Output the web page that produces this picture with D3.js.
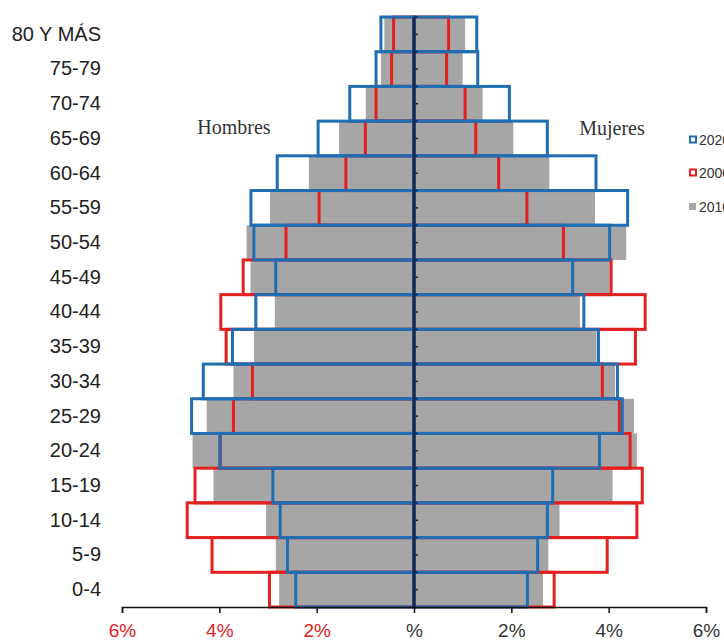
<!DOCTYPE html>
<html>
<head>
<meta charset="utf-8">
<script src="https://cdn.jsdelivr.net/npm/d3@7"></script>
<style>
  html, body { margin: 0; padding: 0; background: #fff; overflow: hidden; }
  svg { display: block; }
</style>
</head>
<body>
<svg id="chart" width="724" height="642"></svg>
<script>
const categories = ["80 Y MÁS","75-79","70-74","65-69","60-64","55-59","50-54","45-49","40-44","35-39","30-34","25-29","20-24","15-19","10-14","5-9","0-4"];

// Hombres (left side), percent of population
const men2020 = [0.68,0.78,1.32,1.97,2.81,3.35,3.29,2.84,3.25,3.73,4.33,4.57,3.99,2.90,2.75,2.60,2.43];
const men2000 = [0.42,0.46,0.78,1.00,1.40,1.95,2.63,3.51,3.97,3.86,3.32,3.71,3.98,4.50,4.66,4.15,2.97];
const men2010 = [0.61,0.68,0.99,1.54,2.16,2.96,3.44,3.36,2.86,3.29,3.71,4.26,4.55,4.12,3.04,2.84,2.77];

// Mujeres (right side)
const women2020 = [1.29,1.31,1.96,2.74,3.74,4.39,4.02,3.26,3.49,3.79,4.18,4.28,3.81,2.85,2.74,2.54,2.33];
const women2000 = [0.71,0.67,1.05,1.27,1.74,2.32,3.07,4.05,4.75,4.55,3.87,4.22,4.44,4.69,4.58,3.97,2.88];
const women2010 = [1.05,1.00,1.41,2.04,2.78,3.72,4.36,4.02,3.41,3.75,4.13,4.52,4.58,4.08,2.99,2.76,2.65];

const xTicks = [-6,-4,-2,0,2,4,6];
const legendLabels = ["2020","2000","2010"];
const sideLabels = ["Hombres","Mujeres"];

const BLUE = "#1f6db3", RED = "#e3201f", GRAY = "#a6a6a6", NAVY = "#17284a";

const svg = d3.select("#chart");
const x = d3.scaleLinear().domain([-6, 6]).range([122, 706]);
const y = d3.scaleBand().domain(categories).range([17, 607]).padding(0);

function barRect(v) { // v signed value
  return { x: Math.min(x(0), x(v)), w: Math.abs(x(v) - x(0)) };
}

// gray bars (2010)
const gGray = svg.append("g");
[[men2010, -1], [women2010, 1]].forEach(([arr, s]) => {
  gGray.selectAll(null).data(arr).enter().append("rect")
    .attr("x", (d) => barRect(s * d).x)
    .attr("width", (d) => barRect(s * d).w)
    .attr("y", (d, i) => y(categories[i]))
    .attr("height", y.bandwidth())
    .attr("fill", GRAY);
});

// outlines: red (2000) then blue (2020)
function outlines(arrM, arrW, color) {
  const g = svg.append("g");
  [[arrM, -1], [arrW, 1]].forEach(([arr, s]) => {
    g.selectAll(null).data(arr).enter().append("rect")
      .attr("x", (d) => barRect(s * d).x)
      .attr("width", (d) => barRect(s * d).w)
      .attr("y", (d, i) => y(categories[i]))
      .attr("height", y.bandwidth())
      .attr("fill", "none")
      .attr("stroke", color)
      .attr("stroke-width", 3);
  });
}
outlines(men2000, women2000, RED);
outlines(men2020, women2020, BLUE);

// center vertical axis
const cx = x(0);
svg.append("line")
  .attr("x1", cx).attr("x2", cx)
  .attr("y1", y.range()[0]).attr("y2", y.range()[1])
  .attr("stroke", NAVY).attr("stroke-width", 3);
const minorTicks = [];
categories.forEach(c => { minorTicks.push(y(c)); minorTicks.push(y(c) + y.bandwidth() / 2); });
svg.append("g").selectAll("line").data(minorTicks).enter().append("line")
  .attr("x1", cx).attr("x2", cx + 4)
  .attr("y1", d => d).attr("y2", d => d)
  .attr("stroke", NAVY).attr("stroke-width", 1.5);

// bottom axis
const xAxis = svg.append("g")
  .attr("transform", `translate(0,${y.range()[1]})`)
  .call(d3.axisBottom(x).tickValues(xTicks).tickSize(6).tickPadding(11)
    .tickFormat(d => d === 0 ? "%" : Math.abs(d) + "%"));
xAxis.select(".domain").attr("stroke", "#111").attr("stroke-width", 1.5);
xAxis.selectAll(".tick line").attr("stroke", "#111").attr("stroke-width", 1.5);
xAxis.selectAll(".tick text")
  .attr("font-family", "Liberation Sans, Arial, sans-serif")
  .attr("font-size", 19)
  .attr("fill", d => d < 0 ? RED : "#333");

// left category axis
const yAxis = svg.append("g")
  .attr("transform", "translate(105,0)")
  .call(d3.axisLeft(y).tickSize(0).tickPadding(4));
yAxis.select(".domain").remove();
yAxis.selectAll(".tick text")
  .attr("font-family", "Liberation Sans, Arial, sans-serif")
  .attr("font-size", 20)
  .attr("fill", "#222");

// side labels
svg.append("text").text(sideLabels[0])
  .attr("x", 234).attr("y", 127).attr("dy", "0.35em")
  .attr("text-anchor", "middle")
  .attr("font-family", "Liberation Serif, Times New Roman, serif")
  .attr("font-size", 20).attr("fill", "#333");
svg.append("text").text(sideLabels[1])
  .attr("x", 612).attr("y", 128).attr("dy", "0.35em")
  .attr("text-anchor", "middle")
  .attr("font-family", "Liberation Serif, Times New Roman, serif")
  .attr("font-size", 20).attr("fill", "#333");

// legend (clipped by the right page edge, as in the reference)
const legendColors = [BLUE, RED, GRAY];
const legendY = [140, 173, 207];
const lg = svg.append("g");
legendLabels.forEach((lab, i) => {
  if (i < 2) {
    lg.append("rect").attr("x", 690).attr("y", legendY[i] - 3.5).attr("width", 6).attr("height", 6)
      .attr("fill", "#fff").attr("stroke", legendColors[i]).attr("stroke-width", 2);
  } else {
    lg.append("rect").attr("x", 689).attr("y", legendY[i] - 4).attr("width", 7).attr("height", 7)
      .attr("fill", legendColors[i]);
  }
  lg.append("text").text(lab)
    .attr("x", 699).attr("y", legendY[i]).attr("dy", "0.35em")
    .attr("font-family", "Liberation Sans, Arial, sans-serif")
    .attr("font-size", 14).attr("fill", "#333");
});
</script>
</body>
</html>
